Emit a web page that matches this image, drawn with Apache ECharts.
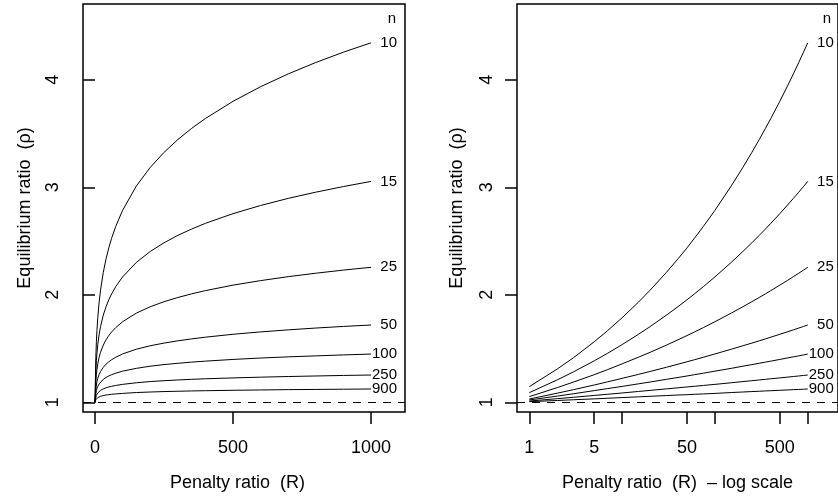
<!DOCTYPE html>
<html>
<head>
<meta charset="utf-8">
<script src="https://cdn.jsdelivr.net/npm/echarts@6/dist/echarts.min.js"></script>
<style>
  html, body { margin: 0; padding: 0; background: #fff; }
  #main { width: 838px; height: 498px; }
</style>
</head>
<body>
<div id="main"></div>
<script>
// penalty ratio R (first point R = 0 only used on the linear panel)
var penalty = [0, 1, 2, 3, 5, 7, 10, 15, 20, 30, 40, 50, 60, 75, 100, 150, 200, 250, 300, 350, 400, 500, 600, 700, 800, 900, 1000];
var nLabels = ['10', '15', '25', '50', '100', '250', '900'];
// equilibrium ratio rho, one array per n
var rho10  = [1, 1.146, 1.310, 1.416, 1.563, 1.668, 1.787, 1.932, 2.043, 2.209, 2.335, 2.437, 2.525, 2.636, 2.786, 3.013, 3.185, 3.325, 3.444, 3.548, 3.640, 3.800, 3.936, 4.055, 4.161, 4.257, 4.344];
var rho15  = [1, 1.090, 1.209, 1.284, 1.386, 1.457, 1.537, 1.633, 1.704, 1.811, 1.890, 1.954, 2.008, 2.076, 2.167, 2.302, 2.403, 2.484, 2.553, 2.612, 2.665, 2.755, 2.831, 2.897, 2.955, 3.007, 3.055];
var rho25  = [1, 1.053, 1.137, 1.189, 1.257, 1.305, 1.358, 1.420, 1.465, 1.532, 1.582, 1.621, 1.654, 1.695, 1.750, 1.830, 1.889, 1.936, 1.975, 2.009, 2.039, 2.090, 2.132, 2.169, 2.201, 2.230, 2.256];
var rho50  = [1, 1.031, 1.085, 1.118, 1.161, 1.191, 1.223, 1.260, 1.287, 1.326, 1.355, 1.377, 1.396, 1.419, 1.450, 1.494, 1.526, 1.551, 1.572, 1.590, 1.606, 1.633, 1.655, 1.674, 1.691, 1.706, 1.719];
var rho100 = [1, 1.022, 1.058, 1.080, 1.109, 1.128, 1.148, 1.172, 1.189, 1.214, 1.231, 1.245, 1.257, 1.271, 1.290, 1.316, 1.336, 1.351, 1.363, 1.374, 1.383, 1.399, 1.412, 1.423, 1.432, 1.441, 1.449];
var rho250 = [1, 1.012, 1.034, 1.047, 1.064, 1.075, 1.087, 1.101, 1.111, 1.125, 1.135, 1.143, 1.149, 1.157, 1.167, 1.182, 1.193, 1.201, 1.208, 1.214, 1.219, 1.227, 1.234, 1.240, 1.245, 1.250, 1.254];
var rho900 = [1, 1.006, 1.017, 1.024, 1.032, 1.038, 1.044, 1.051, 1.056, 1.063, 1.068, 1.071, 1.075, 1.078, 1.083, 1.091, 1.096, 1.100, 1.103, 1.106, 1.108, 1.112, 1.115, 1.118, 1.120, 1.122, 1.124];
var rhoAll = [rho10, rho15, rho25, rho50, rho100, rho250, rho900];

var yTicks = [1, 2, 3, 4];
var xTicksLin = [0, 500, 1000];
var xTicksLog = [1, 5, 10, 50, 100, 500, 1000];
var xLabelsLog = [1, 5, 50, 500];

var FONT = '"Liberation Sans", Arial, Helvetica, sans-serif';

function plain(v) { return String(v); }

function makeY(idx) {
  return {
    type: 'value', gridIndex: idx, min: 0.91, max: 4.705,
    splitLine: { show: false },
    axisLine: { show: false },
    axisTick: { show: true, customValues: yTicks, length: 12, lineStyle: { color: '#000', width: 1.5 } },
    axisLabel: {
      customValues: yTicks, rotate: 90, margin: 30, align: 'center', verticalAlign: 'middle',
      fontSize: 18, color: '#000', fontFamily: FONT, formatter: plain
    }
  };
}

var series = [];
rhoAll.forEach(function (rho, k) {
  var lin = [], lg = [];
  for (var i = 0; i < penalty.length; i++) {
    lin.push([penalty[i], rho[i]]);
    if (penalty[i] > 0) lg.push([penalty[i], rho[i]]);
  }
  [lin, lg].forEach(function (d, g) {
    var s = {
      name: nLabels[k],
      type: 'line',
      xAxisIndex: g, yAxisIndex: g,
      data: d,
      symbol: 'none',
      silent: true,
      lineStyle: { color: '#000', width: 1 },
      endLabel: {
        show: true, formatter: '{a}', distance: 26, align: 'right',
        fontSize: 15, color: '#000', fontFamily: FONT
      }
    };
    if (k === 0) {
      s.markLine = {
        silent: true, symbol: 'none', label: { show: false },
        lineStyle: { color: '#000', width: 1, type: [8, 7] },
        data: [{ yAxis: 1 }]
      };
    }
    series.push(s);
  });
});

function txt(x, y, text, size, rot) {
  return {
    type: 'text', x: x, y: y, rotation: rot || 0,
    style: { text: text, fontSize: size, fontFamily: FONT, fill: '#000', align: 'center', verticalAlign: 'middle' }
  };
}

var chart = echarts.init(document.getElementById('main'));
chart.setOption({
  animation: false,
  backgroundColor: '#fff',
  grid: [
    { left: 83, top: 4, width: 322, height: 408, show: true, borderColor: '#000', borderWidth: 1.5, backgroundColor: 'transparent' },
    { left: 517, top: 4, width: 322, height: 408, show: true, borderColor: '#000', borderWidth: 1.5, backgroundColor: 'transparent' }
  ],
  xAxis: [
    {
      type: 'value', gridIndex: 0, min: -43.5, max: 1123,
      splitLine: { show: false }, axisLine: { show: false },
      axisTick: { show: true, customValues: xTicksLin, length: 12, lineStyle: { color: '#000', width: 1.5 } },
      axisLabel: { customValues: xTicksLin, margin: 27, fontSize: 18, color: '#000', fontFamily: FONT, formatter: plain }
    },
    {
      type: 'log', logBase: 10, gridIndex: 1, min: 0.736, max: 2118,
      splitLine: { show: false }, axisLine: { show: false },
      axisTick: { show: true, customValues: xTicksLog, length: 12, lineStyle: { color: '#000', width: 1.5 } },
      axisLabel: { customValues: xLabelsLog, margin: 27, fontSize: 18, color: '#000', fontFamily: FONT, formatter: plain }
    }
  ],
  yAxis: [makeY(0), makeY(1)],
  series: series,
  graphic: [
    txt(25, 208, 'Equilibrium ratio  (ρ)', 18, Math.PI / 2),
    txt(457, 208, 'Equilibrium ratio  (ρ)', 18, Math.PI / 2),
    txt(237.5, 483, 'Penalty ratio  (R)', 18),
    txt(677.5, 483, 'Penalty ratio  (R)  – log scale', 18),
    txt(392, 19, 'n', 15),
    txt(827, 19, 'n', 15)
  ]
});
</script>
</body>
</html>
